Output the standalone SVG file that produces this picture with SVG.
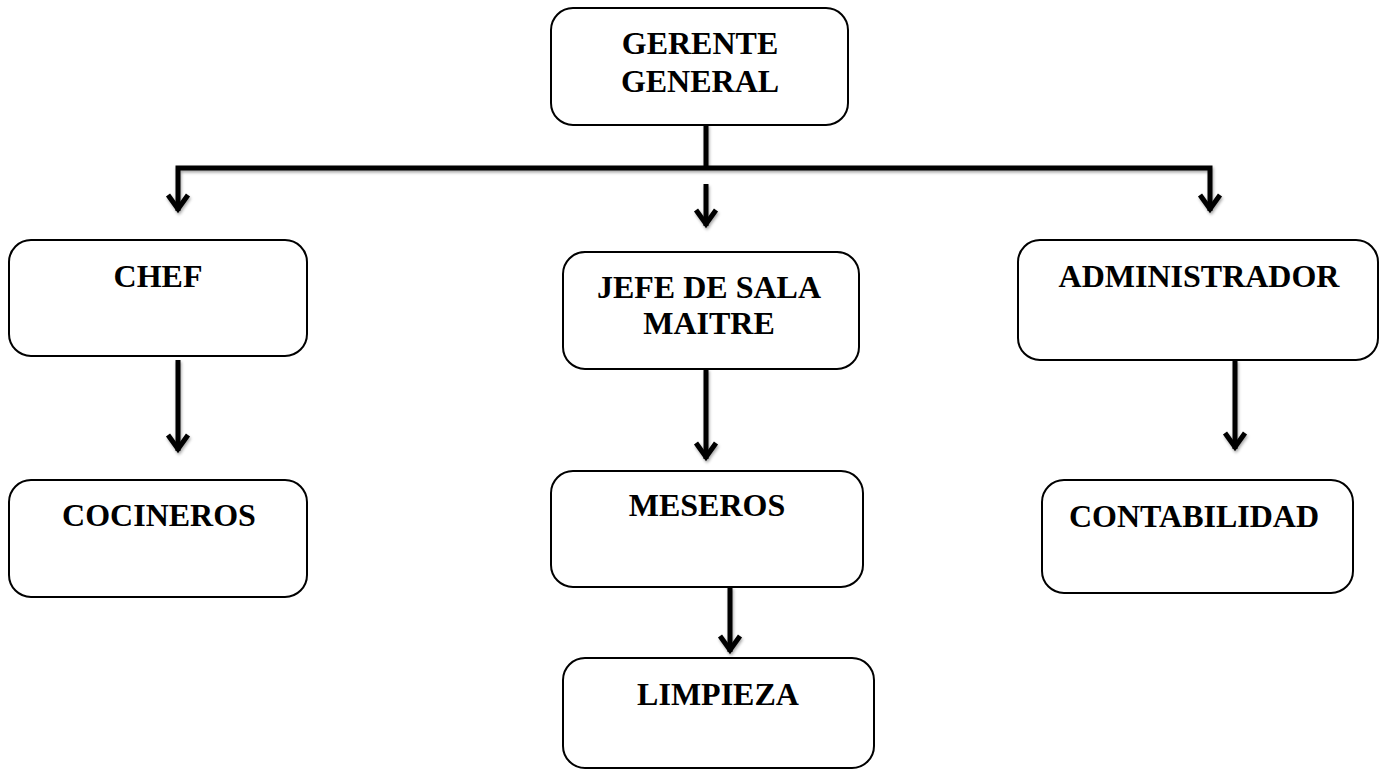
<svg xmlns="http://www.w3.org/2000/svg" width="1388" height="769" viewBox="0 0 1388 769">
<style>
.box{fill:#fff;stroke:#000;stroke-width:2}
.lbl{font-family:"Liberation Serif","Times New Roman",serif;font-weight:bold;font-size:32px;fill:#000;text-anchor:middle}
.ln{fill:none;stroke:#000;stroke-width:5}
.hd{fill:none;stroke:#000;stroke-width:5;stroke-linejoin:miter;stroke-miterlimit:10}
</style>
<defs>
<filter id="sh" filterUnits="userSpaceOnUse" x="0" y="0" width="1388" height="769">
<feDropShadow dx="1" dy="2" stdDeviation="1.5" flood-color="#000" flood-opacity="0.35"/>
</filter>
</defs>
<rect width="1388" height="769" fill="#fff"/>
<g id="connectors" filter="url(#sh)">
<path class="ln" d="M706 124 V168"/>
<path class="ln" d="M178 211 V168 H1210 V211"/>
<path class="hd" d="M168 195 L178 209 L188 195"/>
<path class="hd" d="M1200 195 L1210 209 L1220 195"/>
<path class="ln" d="M706 184 V226"/>
<path class="hd" d="M696 210 L706 224 L716 210"/>
<path class="ln" d="M178 360 V451"/>
<path class="hd" d="M168 435 L178 449 L188 435"/>
<path class="ln" d="M706 369 V459"/>
<path class="hd" d="M696 443 L706 457 L716 443"/>
<path class="ln" d="M1235 360 V449"/>
<path class="hd" d="M1225 433 L1235 447 L1245 433"/>
<path class="ln" d="M730 587 V652"/>
<path class="hd" d="M720 636 L730 650 L740 636"/>
</g>
<g id="gerente">
<rect class="box" x="551" y="8" width="297" height="117" rx="22"/>
<text class="lbl" x="700" y="54">GERENTE</text>
<text class="lbl" x="700" y="92">GENERAL</text>
</g>
<g id="chef">
<rect class="box" x="9" y="240" width="298" height="116" rx="22"/>
<text class="lbl" x="158" y="287">CHEF</text>
</g>
<g id="jefe">
<rect class="box" x="563" y="252" width="296" height="117" rx="22"/>
<text class="lbl" x="709" y="298">JEFE DE SALA</text>
<text class="lbl" x="709" y="334">MAITRE</text>
</g>
<g id="administrador">
<rect class="box" x="1018" y="240" width="360" height="120" rx="22"/>
<text class="lbl" x="1199" y="287">ADMINISTRADOR</text>
</g>
<g id="cocineros">
<rect class="box" x="9" y="480" width="298" height="117" rx="22"/>
<text class="lbl" x="159" y="526">COCINEROS</text>
</g>
<g id="meseros">
<rect class="box" x="551" y="471" width="312" height="116" rx="22"/>
<text class="lbl" x="707" y="516">MESEROS</text>
</g>
<g id="contabilidad">
<rect class="box" x="1042" y="480" width="311" height="113" rx="22"/>
<text class="lbl" x="1194" y="527">CONTABILIDAD</text>
</g>
<g id="limpieza">
<rect class="box" x="563" y="658" width="311" height="110" rx="22"/>
<text class="lbl" x="718" y="705">LIMPIEZA</text>
</g>
</svg>
